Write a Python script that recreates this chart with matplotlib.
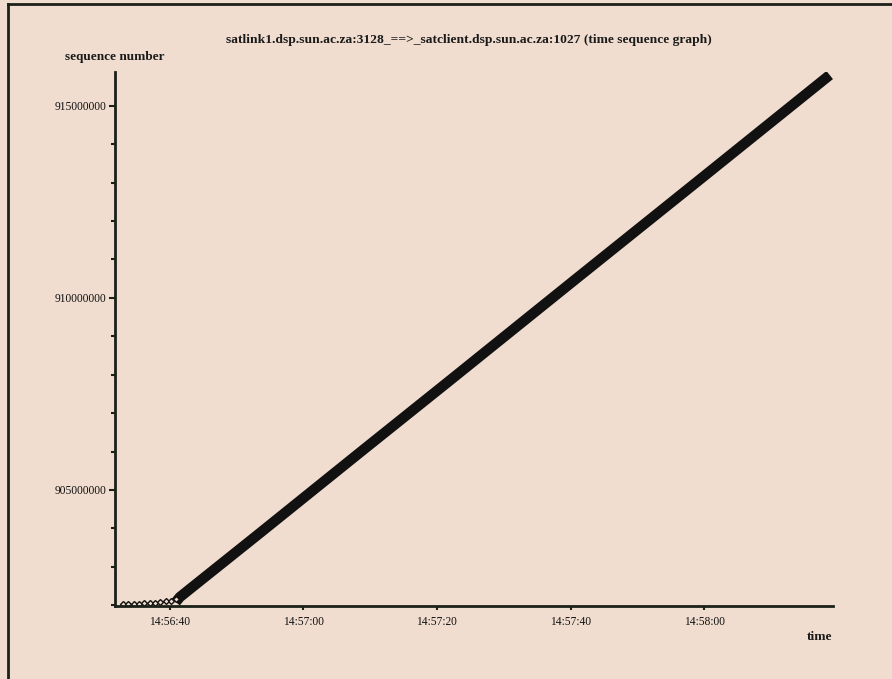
import datetime as dt
import matplotlib
matplotlib.use("Agg")
from matplotlib import pyplot as plt
import matplotlib.dates as mdates
from matplotlib.lines import Line2D
from matplotlib.ticker import MultipleLocator, FuncFormatter

# seconds after 14:56:40 and sequence numbers
t0 = dt.datetime(2000, 1, 1, 14, 56, 40)

# early segments, drawn as small open diamonds
early_t = [-7.0, -6.2, -5.4, -4.6, -3.8, -3.0, -2.2, -1.4, -0.6, 0.2, 0.9]
early_seq = [902030000, 902030000, 902040000, 902040000, 902050000, 902060000,
             902070000, 902080000, 902100000, 902120000, 902150000]

# bulk transfer
bulk_t = [0.9, 1.5, 3.0, 13.5, 28.5, 42.0, 60.0, 80.0, 98.8]
bulk_seq = [902080000, 902210000, 902420000, 903880000, 905980000,
            907860000, 910380000, 913170000, 915800000]

bg = "#f0ddcf"
ink = "#1b2118"

early_x = [t0 + dt.timedelta(seconds=s) for s in early_t]
bulk_x = [t0 + dt.timedelta(seconds=s) for s in bulk_t]

fig = plt.figure(figsize=(8.92, 6.79), dpi=100, facecolor=bg)
ax = fig.add_axes([0.1289, 0.1075, 0.805, 0.7865], facecolor=bg)

ax.plot(bulk_x, bulk_seq, color="#111111", lw=7.5, solid_capstyle="butt")
ax.plot(early_x, early_seq, ls="none", marker="D", ms=3.0, mfc=bg, mec="#111111", mew=1.0)

ax.set_xlim(t0 + dt.timedelta(seconds=-8.2), t0 + dt.timedelta(seconds=99.3))
ax.set_ylim(901980000, 915880000)

ax.xaxis.set_major_locator(mdates.SecondLocator(bysecond=[0, 20, 40]))
ax.xaxis.set_major_formatter(mdates.DateFormatter("%H:%M:%S"))
ax.yaxis.set_major_locator(MultipleLocator(5000000))
ax.yaxis.set_minor_locator(MultipleLocator(1000000))
ax.yaxis.set_major_formatter(FuncFormatter(lambda v, p: "%d" % v))

for s in ["top", "right"]:
    ax.spines[s].set_visible(False)
for s in ["left", "bottom"]:
    ax.spines[s].set_linewidth(2)
    ax.spines[s].set_color(ink)

ax.tick_params(axis="y", which="major", length=4, width=1.5, color=ink, pad=2)
ax.tick_params(axis="y", which="minor", length=3, width=1.5, color=ink)
ax.tick_params(axis="x", which="major", length=3, width=1.5, color=ink, pad=4)
for lbl in ax.get_xticklabels() + ax.get_yticklabels():
    lbl.set_fontfamily("Liberation Serif")
    lbl.set_fontsize(8.3)
    lbl.set_color("#111111")

serif_bold = dict(fontfamily="Liberation Serif", fontweight="bold", color="#1a1a1a")
fig.text(115 / 892, 1 - 57 / 679, "sequence number", ha="center", va="center", fontsize=9.5, **serif_bold)
fig.text(469 / 892, 1 - 40 / 679,
         "satlink1.dsp.sun.ac.za:3128_==>_satclient.dsp.sun.ac.za:1027 (time sequence graph)",
         ha="center", va="center", fontsize=9.7, **serif_bold)
fig.text(820 / 892, 1 - 637 / 679, "time", ha="center", va="center", fontsize=9.7, **serif_bold)

# outer frame (left and top edges)
fig.add_artist(Line2D([8 / 892, 8 / 892], [0, 1 - 4 / 679], color=ink, lw=2))
fig.add_artist(Line2D([8 / 892, 1], [1 - 4 / 679, 1 - 4 / 679], color=ink, lw=2))

fig.savefig("out.png", dpi=100, facecolor=bg)
